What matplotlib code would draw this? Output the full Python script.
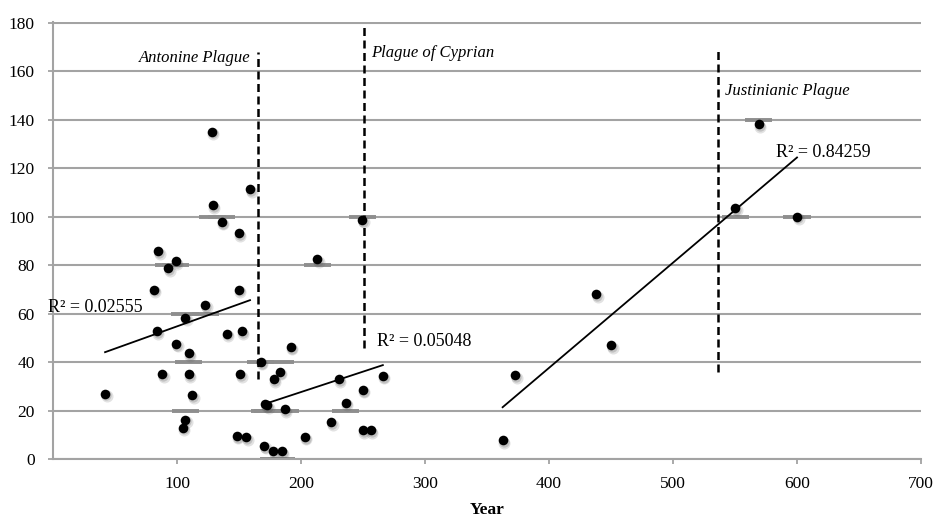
import matplotlib.pyplot as plt
import matplotlib.transforms as mtransforms
import numpy as np

plt.rcParams['font.family'] = ['Liberation Serif', 'DejaVu Serif']

# observations: year vs value
years = np.array([42, 81.2, 83.6, 84.9, 88.2, 93, 98.9, 99.5, 104.8, 106.5,
                  106.7, 109.4, 109.4, 112.4, 122.8, 128, 128.8, 136, 140, 148,
                  150, 150, 151, 152.4, 155.9, 158.9,
                  167.5,
                  171, 172.8, 170.4, 177.7, 178.2, 183, 184.4, 187, 191.7, 203,
                  213.2, 224.5, 230.6, 236, 249.4, 249.7, 250, 256.2, 266,
                  362.6, 372.8, 438.2, 450.3, 550.2, 569, 600])
counts = np.array([27, 69.9, 52.7, 85.7, 35, 78.7, 81.7, 47.5, 13, 58.4,
                   16.3, 43.7, 35, 26.4, 63.6, 135.2, 104.7, 97.9, 51.8, 9.6,
                   93.2, 69.9, 35, 52.7, 8.9, 111.3,
                   40.1,
                   22.5, 22.2, 5.4, 3.4, 33, 36, 3.1, 20.6, 46.3, 9.2,
                   82.5, 15.1, 33, 23.3, 98.7, 11.8, 28.5, 11.8, 34.3,
                   7.8, 34.5, 68, 47, 103.7, 138.1, 100.1])

# year ranges for the three linear trendlines
fit_spans = [(40, 160), (171, 270), (360, 600)]
r2_labels = ['R² = 0.02555', 'R² = 0.05048', 'R² = 0.84259']

plague_names = ['Antonine Plague', 'Plague of Cyprian', 'Justinianic Plague']
plague_years = [165.5, 250.8, 536.3]
plague_spans = [(33, 168), (46, 180), (36, 169.5)]

grid_c = '#a3a3a3'

fig = plt.figure(figsize=(9.36, 5.18), dpi=100)
ax = fig.add_axes([0.0566, 0.1139, 0.9274, 0.8436])
ax.set_xlim(0, 700)
ax.set_ylim(0, 180.4)

ax.set_yticks(np.arange(0, 181, 20))
ax.set_xticks(np.arange(100, 701, 100))
ax.yaxis.grid(True, color=grid_c, lw=1.5)
ax.set_axisbelow(True)
for s in ['top', 'right']:
    ax.spines[s].set_visible(False)
for s in ['left', 'bottom']:
    ax.spines[s].set_color(grid_c)
    ax.spines[s].set_linewidth(1.5)
ax.tick_params(colors=grid_c, width=1.3, length=3.6, labelcolor='black',
               labelsize=12.5)
ax.tick_params(axis='y', pad=9.4)
ax.tick_params(axis='x', pad=8.5)
ax.set_xlabel('Year', fontsize=12.5, fontweight='bold', va='center')
ax.xaxis.set_label_coords(0.5, -0.1167)

# darker patches on the gridlines next to points sitting close to them
near = np.round(counts / 20) * 20
hit = np.abs(counts - near) < 4.75
ax.hlines(near[hit], years[hit] - 11, years[hit] + 11, color='#8e8e8e',
          lw=2.8, zorder=1.5)

# soft shadow under the markers
for dx, dy, a, s in [(1.5, -2.5, 0.18, 75), (1.0, -1.8, 0.25, 55)]:
    off = mtransforms.offset_copy(ax.transData, fig=fig, x=dx, y=dy,
                                  units='dots')
    ax.scatter(years, counts, s=s, color='#606060', alpha=a, lw=0,
               transform=off, zorder=2)
ax.scatter(years, counts, s=48, color='black', lw=0, zorder=3)

# trendlines
label_pos = [(-4, 62.4), (261, 48.4), (583, 126.6)]
for (lo, hi), lab, (tx, ty) in zip(fit_spans, r2_labels, label_pos):
    m = (years >= lo) & (years <= hi)
    k, b = np.polyfit(years[m], counts[m], 1)
    xs = np.array([years[m].min(), years[m].max()])
    ax.plot(xs, k * xs + b, color='black', lw=1.3, zorder=4)
    ax.text(tx, ty, lab, fontsize=13, va='center', ha='left', zorder=5)

# plague markers
for name, yr, (y0, y1) in zip(plague_names, plague_years, plague_spans):
    ax.plot([yr, yr], [y0, y1], color='black', lw=1.8, ls=(0, (3.2, 1.8)),
            zorder=4, clip_on=False)
ax.text(plague_years[0] - 6, 165.5, plague_names[0], style='italic',
        fontsize=12, ha='right', va='center')
ax.text(plague_years[1] + 6, 167.5, plague_names[1], style='italic',
        fontsize=12, ha='left', va='center')
ax.text(plague_years[2] + 6, 152, plague_names[2], style='italic',
        fontsize=12, ha='left', va='center')

fig.savefig('out.png', dpi=100)
